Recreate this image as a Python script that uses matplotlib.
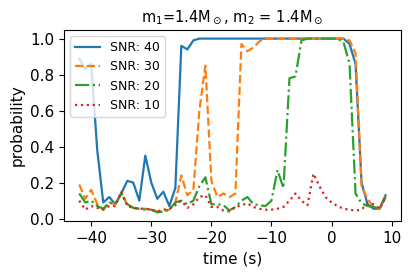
import numpy as np
import matplotlib
matplotlib.use("Agg")
import matplotlib.pyplot as plt

# time axis (s), one sample per second
time = np.arange(-42, 10)

snr_40 = [0.89, 0.83, 0.86, 0.38, 0.09, 0.12, 0.08, 0.14, 0.21, 0.20,
          0.10, 0.35, 0.20, 0.11, 0.15, 0.07, 0.17, 0.96, 0.94, 0.99,
          1.0, 1.0, 1.0, 1.0, 1.0, 1.0, 1.0, 1.0, 1.0, 1.0,
          1.0, 1.0, 1.0, 1.0, 1.0, 1.0, 1.0, 1.0, 1.0, 1.0,
          1.0, 1.0, 1.0, 1.0, 1.0, 0.97, 0.86, 0.20, 0.08, 0.055,
          0.055, 0.13]
snr_30 = [0.19, 0.11, 0.16, 0.08, 0.05, 0.09, 0.08, 0.14, 0.08, 0.06,
          0.055, 0.055, 0.05, 0.04, 0.04, 0.05, 0.09, 0.24, 0.13, 0.16,
          0.60, 0.85, 0.21, 0.12, 0.14, 0.12, 0.14, 0.97, 0.93, 0.95,
          0.985, 1.0, 1.0, 1.0, 1.0, 1.0, 1.0, 1.0, 1.0, 1.0,
          1.0, 1.0, 1.0, 1.0, 1.0, 0.99, 0.92, 0.18, 0.11, 0.065,
          0.055, 0.12]
snr_20 = [0.14, 0.09, 0.10, 0.07, 0.055, 0.09, 0.08, 0.14, 0.08, 0.06,
          0.055, 0.05, 0.05, 0.035, 0.04, 0.05, 0.09, 0.10, 0.08, 0.10,
          0.18, 0.23, 0.08, 0.08, 0.075, 0.046, 0.065, 0.10, 0.12, 0.08,
          0.075, 0.07, 0.10, 0.27, 0.17, 0.78, 0.79, 0.99, 1.0, 1.0,
          1.0, 1.0, 1.0, 1.0, 0.98, 0.86, 0.14, 0.085, 0.07, 0.065,
          0.055, 0.12]
snr_10 = [0.10, 0.05, 0.07, 0.06, 0.05, 0.07, 0.07, 0.15, 0.07, 0.06,
          0.055, 0.055, 0.05, 0.04, 0.05, 0.055, 0.075, 0.10, 0.06, 0.08,
          0.12, 0.13, 0.065, 0.065, 0.045, 0.04, 0.065, 0.075, 0.085, 0.065,
          0.055, 0.05, 0.05, 0.055, 0.065, 0.10, 0.14, 0.10, 0.075, 0.25,
          0.18, 0.12, 0.09, 0.07, 0.055, 0.05, 0.045, 0.05, 0.085, 0.08,
          0.055, 0.12]

series = [(snr_40, "SNR: 40", "-"),
          (snr_30, "SNR: 30", "--"),
          (snr_20, "SNR: 20", "-."),
          (snr_10, "SNR: 10", ":")]

fig = plt.figure(figsize=(4.15, 2.77), dpi=100)
ax = fig.add_axes([0.154, 0.202, 0.812, 0.690])

for values, label, style in series:
    ax.plot(time, values, linestyle=style, linewidth=1.6, label=label)

ax.set_xticks([-40, -30, -20, -10, 0, 10])
ax.set_yticks([0.0, 0.2, 0.4, 0.6, 0.8, 1.0])
ax.tick_params(labelsize=11)
ax.set_xlabel("time (s)", fontsize=11)
ax.set_ylabel("probability", fontsize=11)
ax.set_title(r"m$_1$=1.4M$_\odot$, m$_2$ = 1.4M$_\odot$", fontsize=10.5)
ax.legend(loc="upper left", fontsize=9)

fig.savefig("out.png", dpi=100)
